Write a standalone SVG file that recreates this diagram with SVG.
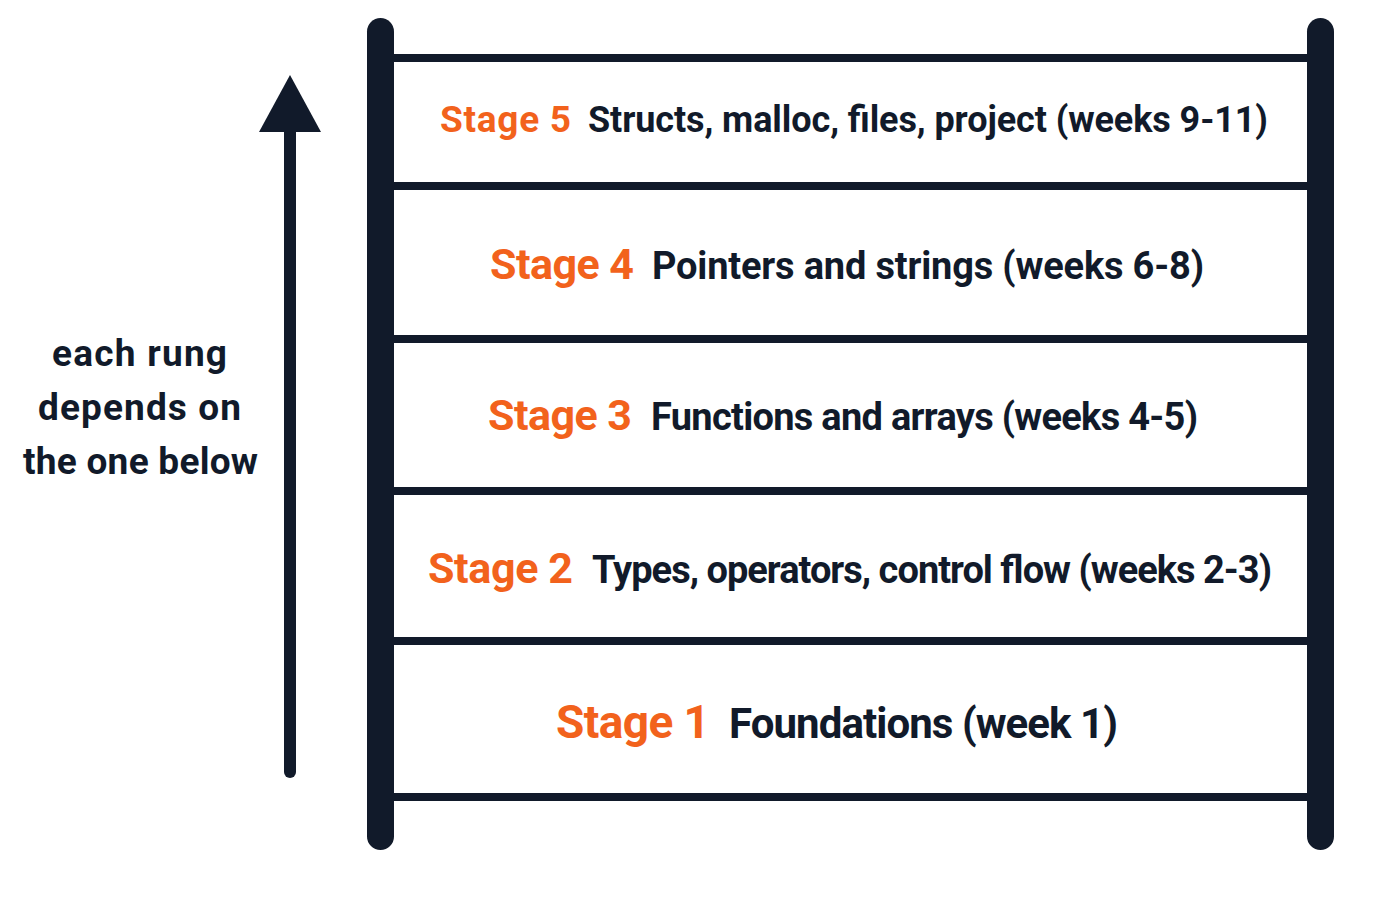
<svg xmlns="http://www.w3.org/2000/svg" width="1400" height="900" viewBox="0 0 1400 900">
<style>
.rail{fill:#111a2a}
.rung{stroke:#111a2a;stroke-width:8}
.o{fill:#f2621c;font-family:Roboto,"Liberation Sans",sans-serif;font-weight:bold}
.k{fill:#111a2a;font-family:Roboto,"Liberation Sans",sans-serif;font-weight:bold}
</style>
<rect width="1400" height="900" fill="#ffffff"/>
<g id="connectors">
<line x1="290" y1="772" x2="290" y2="125" stroke="#111a2a" stroke-width="12" stroke-linecap="round"/>
<polygon points="290,75 321,132 259,132" fill="#111a2a"/>
<line class="rung" x1="390" y1="58" x2="1310" y2="58"/>
<line class="rung" x1="390" y1="186" x2="1310" y2="186"/>
<line class="rung" x1="390" y1="339" x2="1310" y2="339"/>
<line class="rung" x1="390" y1="491" x2="1310" y2="491"/>
<line class="rung" x1="390" y1="641" x2="1310" y2="641"/>
<line class="rung" x1="390" y1="797" x2="1310" y2="797"/>
</g>
<g id="rails">
<rect class="rail" x="367" y="18" width="27" height="832" rx="13.5"/>
<rect class="rail" x="1307" y="18" width="27" height="832" rx="13.5"/>
</g>
<g id="stage5"><text class="o" x="440" y="132" font-size="37" textLength="131">Stage 5</text><text class="k" x="588" y="132" font-size="36" textLength="680">Structs, malloc, files, project (weeks 9-11)</text></g>
<g id="stage4"><text class="o" x="490" y="279" font-size="43" textLength="144">Stage 4</text><text class="k" x="652" y="279" font-size="38" textLength="552">Pointers and strings (weeks 6-8)</text></g>
<g id="stage3"><text class="o" x="488" y="430" font-size="43" textLength="144">Stage 3</text><text class="k" x="651" y="430" font-size="38" textLength="547">Functions and arrays (weeks 4-5)</text></g>
<g id="stage2"><text class="o" x="428" y="583" font-size="43" textLength="145">Stage 2</text><text class="k" x="592" y="583" font-size="38" textLength="680">Types, operators, control flow (weeks 2-3)</text></g>
<g id="stage1"><text class="o" x="556" y="738" font-size="46" textLength="154">Stage 1</text><text class="k" x="729" y="738" font-size="42" textLength="389">Foundations (week 1)</text></g>
<g id="note">
<text class="k" x="52" y="366" font-size="37" textLength="175">each rung</text>
<text class="k" x="38" y="420" font-size="37" textLength="203">depends on</text>
<text class="k" x="23" y="474" font-size="37" textLength="235">the one below</text>
</g>
</svg>
